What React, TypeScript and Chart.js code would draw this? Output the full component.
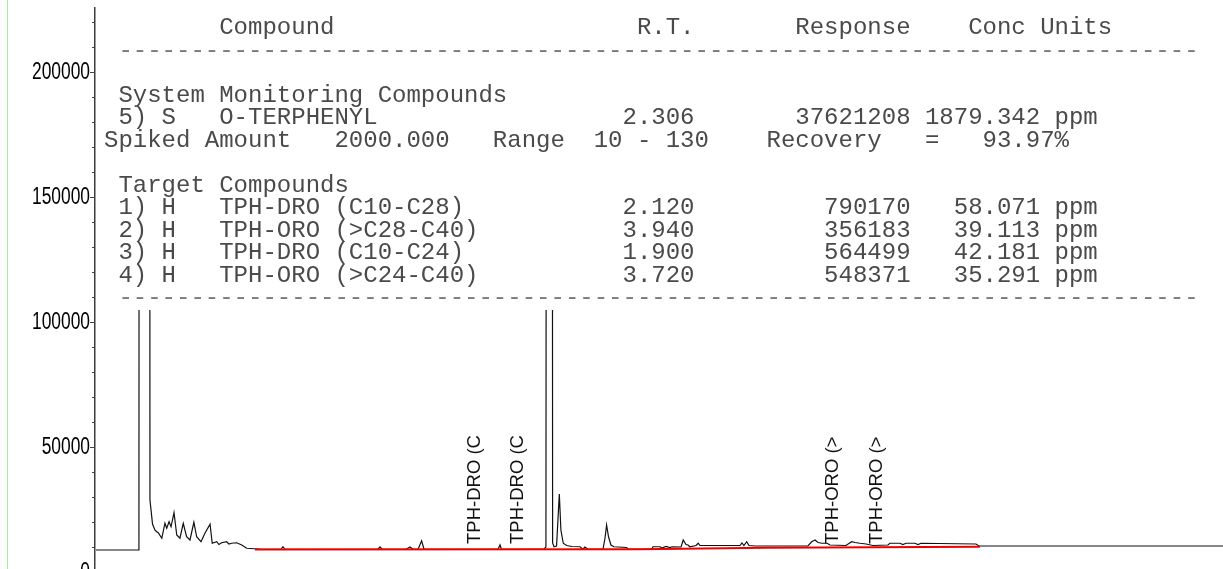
import React, { useEffect, useRef } from "react";
import { Chart, registerables } from "chart.js";

Chart.register(...registerables);

// ---------------- Chromatogram (retention time in min / detector response) ----------------
const traceTime: number[] = [
  0.0, 0.218, 0.246, 0.274, 0.287, 0.299, 0.308, 0.316, 0.334, 0.35,
  0.359, 0.371, 0.381, 0.396, 0.41, 0.426, 0.443, 0.46, 0.477, 0.497,
  0.511, 0.533, 0.553, 0.579, 0.59, 0.613, 0.624, 0.638, 0.663, 0.675,
  0.689, 0.714, 0.74, 0.765, 0.841, 0.939, 0.949, 0.959, 1.431, 1.442,
  1.452, 1.574, 1.594, 1.609, 1.635, 1.653, 1.665, 2.041, 2.051, 2.058,
  2.274, 2.284, 2.303, 2.318, 2.325, 2.338, 2.345, 2.352, 2.36, 2.372,
  2.389, 2.416, 2.457, 2.472, 2.482, 2.497, 2.574, 2.584, 2.592, 2.602,
  2.614, 2.629, 2.694, 2.701, 2.822, 2.827, 2.863, 2.873, 2.893, 2.914,
  2.924, 2.97, 2.981, 2.995, 3.005, 3.015, 3.046, 3.057, 3.066, 3.269,
  3.279, 3.289, 3.303, 3.315, 3.345, 3.614, 3.633, 3.65, 3.665, 3.685,
  3.711, 3.726, 3.807, 3.836, 3.853, 3.878, 3.909, 3.944, 4.02, 4.03,
  4.081, 4.096, 4.112, 4.157, 4.173, 4.188, 4.467, 4.482, 5.721,
];
const traceResponse: number[] = [
  8800, 8800, 6000000, 28800, 19200, 16800, 16100, 15700, 13500, 19500,
  17500, 20100, 18100, 23700, 14800, 13500, 19500, 14100, 12800, 19900,
  14100, 12100, 15500, 19100, 11500, 12100, 11000, 11700, 12100, 11200,
  11500, 11700, 10800, 9500, 9100, 9100, 10100, 9100, 9100, 10000,
  9100, 9100, 10000, 9100, 9100, 12500, 9100, 9100, 10800, 9100,
  9100, 10000, 2000000, 11600, 10100, 10400, 20800, 31200, 16800, 11500,
  10600, 10200, 10100, 9100, 10000, 9100, 9200, 13600, 18800, 14000,
  10800, 10100, 9800, 9100, 9200, 10100, 10100, 9600, 10200, 9800,
  10100, 10000, 12800, 11000, 10800, 10100, 10600, 11500, 10600, 10600,
  11600, 10600, 12100, 10600, 10400, 10400, 12100, 12800, 11800, 11500,
  11500, 10800, 10600, 12100, 11800, 11500, 11200, 10600, 10800, 11500,
  11500, 11000, 11500, 11500, 11000, 11500, 11200, 10400, 10400,
];

// Integration baseline (red)
const baselineTime: number[] = [0.807, 2.761, 3.406, 4.487];
const baselineResponse: number[] = [9000, 9100, 9700, 10100];

// Peak annotations
const peakLabels: string[] = ["TPH-DRO (C", "TPH-DRO (C", "TPH-ORO (>", "TPH-ORO (>"];
const peakRT: number[] = [1.9, 2.12, 3.72, 3.94];

// Axis
const yTickStep = 10000;
const yLabelStep = 50000;
const yMax = 225600;
const xMin = -0.005;
const xMax = 5.721;

// ---------------- Quantitation report ----------------
const surrogateName = "O-TERPHENYL";
const surrogateRT = "2.306";
const surrogateResponse = "37621208";
const surrogateConc = "1879.342";
const spikedAmount = "2000.000";
const recoveryRange = "10 - 130";
const recovery = "93.97%";

const targetNames: string[] = ["TPH-DRO (C10-C28)", "TPH-ORO (>C28-C40)", "TPH-DRO (C10-C24)", "TPH-ORO (>C24-C40)"];
const targetRT: string[] = ["2.120", "3.940", "1.900", "3.720"];
const targetResponse: string[] = ["790170", "356183", "564499", "548371"];
const targetConc: string[] = ["58.071", "39.113", "42.181", "35.291"];
const concUnit = "ppm";

function row(num: number, type: string, name: string, rt: string, resp: string, conc: string) {
  return (" " + num + ") " + type + "   " + name).padEnd(36) + rt + resp.padStart(15) + conc.padStart(9) + " " + concUnit;
}

const dashes = " " + "-".repeat(75);
const reportLines: string[] = [
  "        Compound".padEnd(37) + "R.T.".padEnd(11) + "Response".padEnd(12) + "Conc Units",
  dashes,
  "",
  " System Monitoring Compounds",
  row(5, "S", surrogateName, surrogateRT, surrogateResponse, surrogateConc),
  "Spiked Amount   " + spikedAmount + "   Range  " + recoveryRange + "    Recovery   =   " + recovery,
  "",
  " Target Compounds",
  ...targetNames.map((n, i) => row(i + 1, "H", n, targetRT[i], targetResponse[i], targetConc[i])),
  dashes,
];

const overlayPlugin = {
  id: "overlay",
  afterDraw(chart: any) {
    const ctx: CanvasRenderingContext2D = chart.ctx;
    const ys = chart.scales.y;
    const xs = chart.scales.x;
    const left = chart.chartArea.left;
    ctx.save();
    // y ticks & labels
    for (let v = 0; v <= yMax; v += yTickStep) {
      const py = Math.round(ys.getPixelForValue(v)) + 0.5;
      const major = v % yLabelStep === 0;
      ctx.strokeStyle = "#444";
      ctx.lineWidth = 1;
      ctx.beginPath();
      ctx.moveTo(left - (major ? 5 : 3), py);
      ctx.lineTo(left, py);
      ctx.stroke();
      if (major) {
        ctx.save();
        ctx.translate(left - 5, py);
        ctx.scale(0.74, 1);
        ctx.font = '23.5px "Liberation Sans", Arial, sans-serif';
        ctx.textAlign = "right";
        ctx.textBaseline = "middle";
        ctx.fillStyle = "#000";
        ctx.fillText(String(v), 0, 0);
        ctx.restore();
      }
    }
    // peak labels
    peakLabels.forEach((label, i) => {
      const px = xs.getPixelForValue(peakRT[i]);
      ctx.save();
      ctx.translate(px + 9.5, 544);
      ctx.rotate(-Math.PI / 2);
      ctx.font = '18.5px "Liberation Sans", Arial, sans-serif';
      ctx.textAlign = "left";
      ctx.textBaseline = "alphabetic";
      ctx.fillStyle = "#111";
      ctx.fillText(label, 0, 0);
      ctx.restore();
    });
    ctx.restore();
  },
};

export default function App() {
  const ref = useRef<HTMLCanvasElement>(null);

  useEffect(() => {
    const canvas = ref.current;
    if (!canvas) return;
    const chart = new Chart(canvas, {
      type: "line",
      data: {
        datasets: [
          {
            label: "Baseline",
            data: baselineTime.map((t, i) => ({ x: t, y: baselineResponse[i] })),
            borderColor: "#f00000",
            borderWidth: 2,
            pointRadius: 0,
            tension: 0,
            order: 0,
          },
          {
            label: "FID",
            data: traceTime.map((t, i) => ({ x: t, y: traceResponse[i] })),
            borderColor: "#111",
            borderWidth: 1.2,
            pointRadius: 0,
            tension: 0,
            order: 1,
          },
        ],
      },
      options: {
        animation: false,
        responsive: false,
        events: [],
        layout: { padding: { top: 8, bottom: 8, left: 0, right: 0 } },
        plugins: { legend: { display: false }, tooltip: { enabled: false } },
        scales: {
          x: { type: "linear", min: xMin, max: xMax, display: false },
          y: {
            type: "linear",
            min: 0,
            max: yMax,
            ticks: { display: false, stepSize: yTickStep },
            grid: { display: false },
            border: { display: true, color: "#3c3c3c", width: 1.5 },
            afterFit: (scale: any) => {
              scale.width = 95;
            },
          },
        },
      },
      plugins: [overlayPlugin],
    } as any);
    return () => chart.destroy();
  }, []);

  return (
    <div
      style={{
        position: "fixed",
        left: 0,
        top: 0,
        width: 1223,
        height: 569,
        overflow: "hidden",
        background: "#fff",
      }}
    >
      <canvas ref={ref} width={1223} height={580} style={{ position: "absolute", left: 0, top: 0 }} />
      <div style={{ position: "absolute", left: 7, top: 0, width: 1, height: 569, background: "#a8eca0" }} />
      <div
        style={{
          position: "absolute",
          left: 97,
          top: 0,
          width: 1126,
          height: 310,
          background: "#fff",
        }}
      >
        <div
          style={{
            position: "absolute",
            left: 7,
            top: 17,
            fontFamily: '"Liberation Mono", "Courier New", monospace',
            fontSize: 24,
            lineHeight: "22.5px",
            whiteSpace: "pre",
            color: "#4a4a4a",
          }}
        >
          {reportLines.map((line, i) => (
            <div key={i} style={{ height: 22.5, color: line.startsWith(" ---") ? "#7a7a7a" : "#4a4a4a" }}>
              {line || " "}
            </div>
          ))}
        </div>
      </div>
    </div>
  );
}
